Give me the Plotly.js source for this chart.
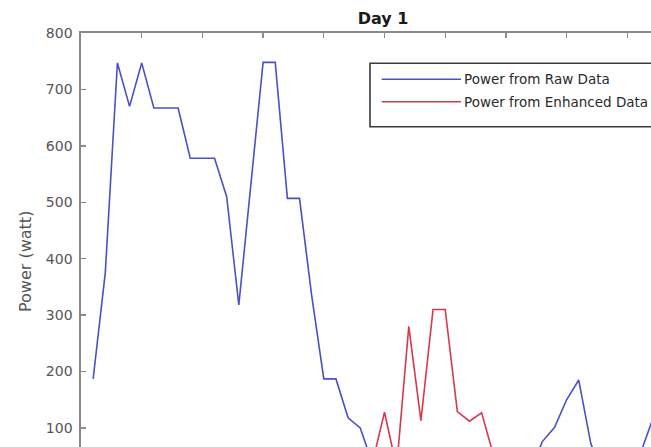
<!DOCTYPE html>
<html>
<head>
<meta charset="utf-8">
<script src="https://cdn.plot.ly/plotly-3.0.1.min.js"></script>
<style>html,body{margin:0;padding:0;background:#fff;}#chart{width:651px;height:447px;}</style>
</head>
<body>
<div id="chart"></div>
<script>
// ---- data ----
const sampleIndex = [1,2,3,4,5,6,7,8,9,10,11,12,13,14,15,16,17,18,19,20,21,22,23,24,25,26,27,28,29,30,31,32,33,34,35,36,37,38,39,40,41,42,43,44,45,46,47];
const rawPower = [187,375,747,670,747,667,667,667,578,578,578,510,318,533,748,748,507,507,335,187,187,118,100,38,0,0,0,0,0,0,0,0,0,50,10,0,20,76,101,150,185,72,20,0,0,50,110];
const enhancedIndex = [24,25,26,27,28,29,30,31,32,33,34];
const enhancedPower = [38,128,30,280,113,310,310,129,112,127,50];
const seriesNames = ["Power from Raw Data", "Power from Enhanced Data"];
const seriesColors = ["#4b50c4", "#d63a4a"];
const chartTitle = "Day 1";
const yTitle = "Power (watt)";

// ---- layout geometry ----
const W = 651, H = 447, L = 81, T = 33;
const plotW = W - L, plotH = H - T;
const px2x = p => (p - L) / plotW;      // pixel -> paper x
const py2y = p => (H - p) / plotH;      // pixel -> paper y

const traces = [
  {x: sampleIndex, y: rawPower, type: 'scatter', mode: 'lines', name: seriesNames[0],
   line: {color: seriesColors[0], width: 1.6}},
  {x: enhancedIndex, y: enhancedPower, type: 'scatter', mode: 'lines', name: seriesNames[1],
   line: {color: seriesColors[1], width: 1.6}}
];

const axisColor = '#8a8a8a';
const font = 'DejaVu Sans, Arial, sans-serif';

const legendRowY = [79.3, 101.7];
const shapes = [
  {type: 'rect', xref: 'paper', yref: 'paper', x0: px2x(370), x1: px2x(720), y0: py2y(126.7), y1: py2y(63.3),
   line: {color: '#3a3a3a', width: 1.6}, fillcolor: 'rgba(255,255,255,1)', layer: 'above'}
];
const annotations = [
  {xref: 'paper', yref: 'paper', x: px2x(25), y: py2y(262), text: yTitle, textangle: -90, showarrow: false,
   font: {family: font, size: 16, color: '#555'}, xanchor: 'center', yanchor: 'middle'}
];
seriesNames.forEach((n, i) => {
  shapes.push({type: 'line', xref: 'paper', yref: 'paper', x0: px2x(381.7), x1: px2x(461),
    y0: py2y(legendRowY[i]), y1: py2y(legendRowY[i]), line: {color: seriesColors[i], width: 1.6}, layer: 'above'});
  annotations.push({xref: 'paper', yref: 'paper', x: px2x(461.5), y: py2y(legendRowY[i]), text: n, showarrow: false,
    xanchor: 'left', yanchor: 'middle', font: {family: font, size: 13.5, color: '#2a2a2a'}});
});

const layout = {
  width: W, height: H,
  margin: {l: L, r: 0, t: T, b: 0, pad: 0},
  paper_bgcolor: '#fff', plot_bgcolor: '#fff',
  showlegend: false,
  title: {text: '<b>' + chartTitle + '</b>', x: 383 / W, xref: 'container', xanchor: 'center',
          y: 1 - 18 / H, yref: 'container', yanchor: 'middle',
          font: {family: font, size: 16, color: '#1a1a1a'}},
  xaxis: {range: [0, plotW / 12.14], side: 'top', showticklabels: false, ticks: 'inside', ticklen: 5,
          tickcolor: axisColor, tickwidth: 1.3, tick0: 0, dtick: 5, showline: true, linecolor: axisColor,
          linewidth: 1.6, showgrid: false, zeroline: false},
  yaxis: {range: [800 - plotH / 0.5643, 800], tick0: 0, dtick: 100, ticks: 'inside', ticklen: 5,
          tickcolor: axisColor, tickwidth: 1.3, showline: true, linecolor: axisColor, linewidth: 1.6,
          showgrid: false, zeroline: false, ticklabelstandoff: 4,
          tickfont: {family: font, size: 14, color: '#555'}},
  shapes: shapes,
  annotations: annotations
};

Plotly.newPlot('chart', traces, layout, {staticPlot: true, displayModeBar: false});
</script>
</body>
</html>
